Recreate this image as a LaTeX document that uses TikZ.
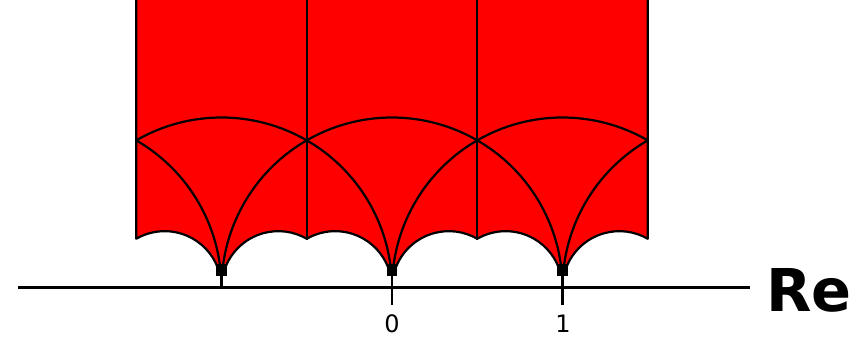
\documentclass[tikz,border=0pt]{standalone}
\usepackage{fontspec}
\setmainfont{DejaVu Sans}
\begin{document}
\begin{tikzpicture}[x=1pt,y=1pt,
  bnd/.style={draw=black,line width=2.2pt},
  lbl/.style={font=\fontsize{24}{24}\selectfont,anchor=base,inner sep=0pt}]
\useasboundingbox (0,0) rectangle (862,340);
\begin{scope}[shift={(392,52)},x=170.5pt,y=170.5pt]
  % red region with scalloped bottom
  \path[fill=red,bnd,line join=round]
    (-1.5,1.75) -- (-1.5,0.2887)
    arc[start angle=120,end angle=15,radius=0.33333] -- (-0.98865,0.08627)
    arc[start angle=165,end angle=60,radius=0.33333]
    arc[start angle=120,end angle=15,radius=0.33333] -- (0.01135,0.08627)
    arc[start angle=165,end angle=60,radius=0.33333]
    arc[start angle=120,end angle=15,radius=0.33333] -- (1.01135,0.08627)
    arc[start angle=165,end angle=60,radius=0.33333]
    -- (1.5,1.75);
  % vertical boundaries
  \foreach \v [count=\i] in {-0.5,0.5}{
    \coordinate (v\i) at (\v,0.28);
    \draw[bnd] (v\i) -- (\v,1.75);
  }
  % arcs
  \foreach \n in {-1,0,1}{
    \draw[bnd] (\n+0.5,0.8660) arc[start angle=60,end angle=120,radius=1];
    \draw[bnd] (\n-0.5,0.8660) arc[start angle=60,end angle=5,radius=1];
    \draw[bnd] (\n+0.5,0.8660) arc[start angle=120,end angle=175,radius=1];
    \fill (\n-0.031,0.072) rectangle (\n+0.031,0.138);
  }
  % ticks
  \coordinate (c-1) at (-1,0.08);
  \coordinate (c0) at (0,0.08);
  \coordinate (c1) at (1,0.08);
  \coordinate (a-1) at (-1,0);
  \coordinate (b0) at (0,-0.1);
  \coordinate (b1) at (1,-0.1);
  \draw[line width=2.4pt] (c-1) -- (a-1);
  \draw[line width=2.4pt] (c0) -- (b0);
  \draw[line width=2.4pt] (c1) -- (b1);
\end{scope}
% axis
\coordinate (ax0) at (18,52);
\coordinate (ax1) at (750,52);
\draw[line width=3pt] (ax0) -- (ax1);
\node[anchor=base west,inner sep=0pt,font=\fontsize{59}{59}\selectfont\bfseries] (re) at (766,28) {Re};
\node[lbl] (l0) at (392,7) {0};
\node[lbl] (l1) at (563,7) {1};
\end{tikzpicture}
\end{document}
